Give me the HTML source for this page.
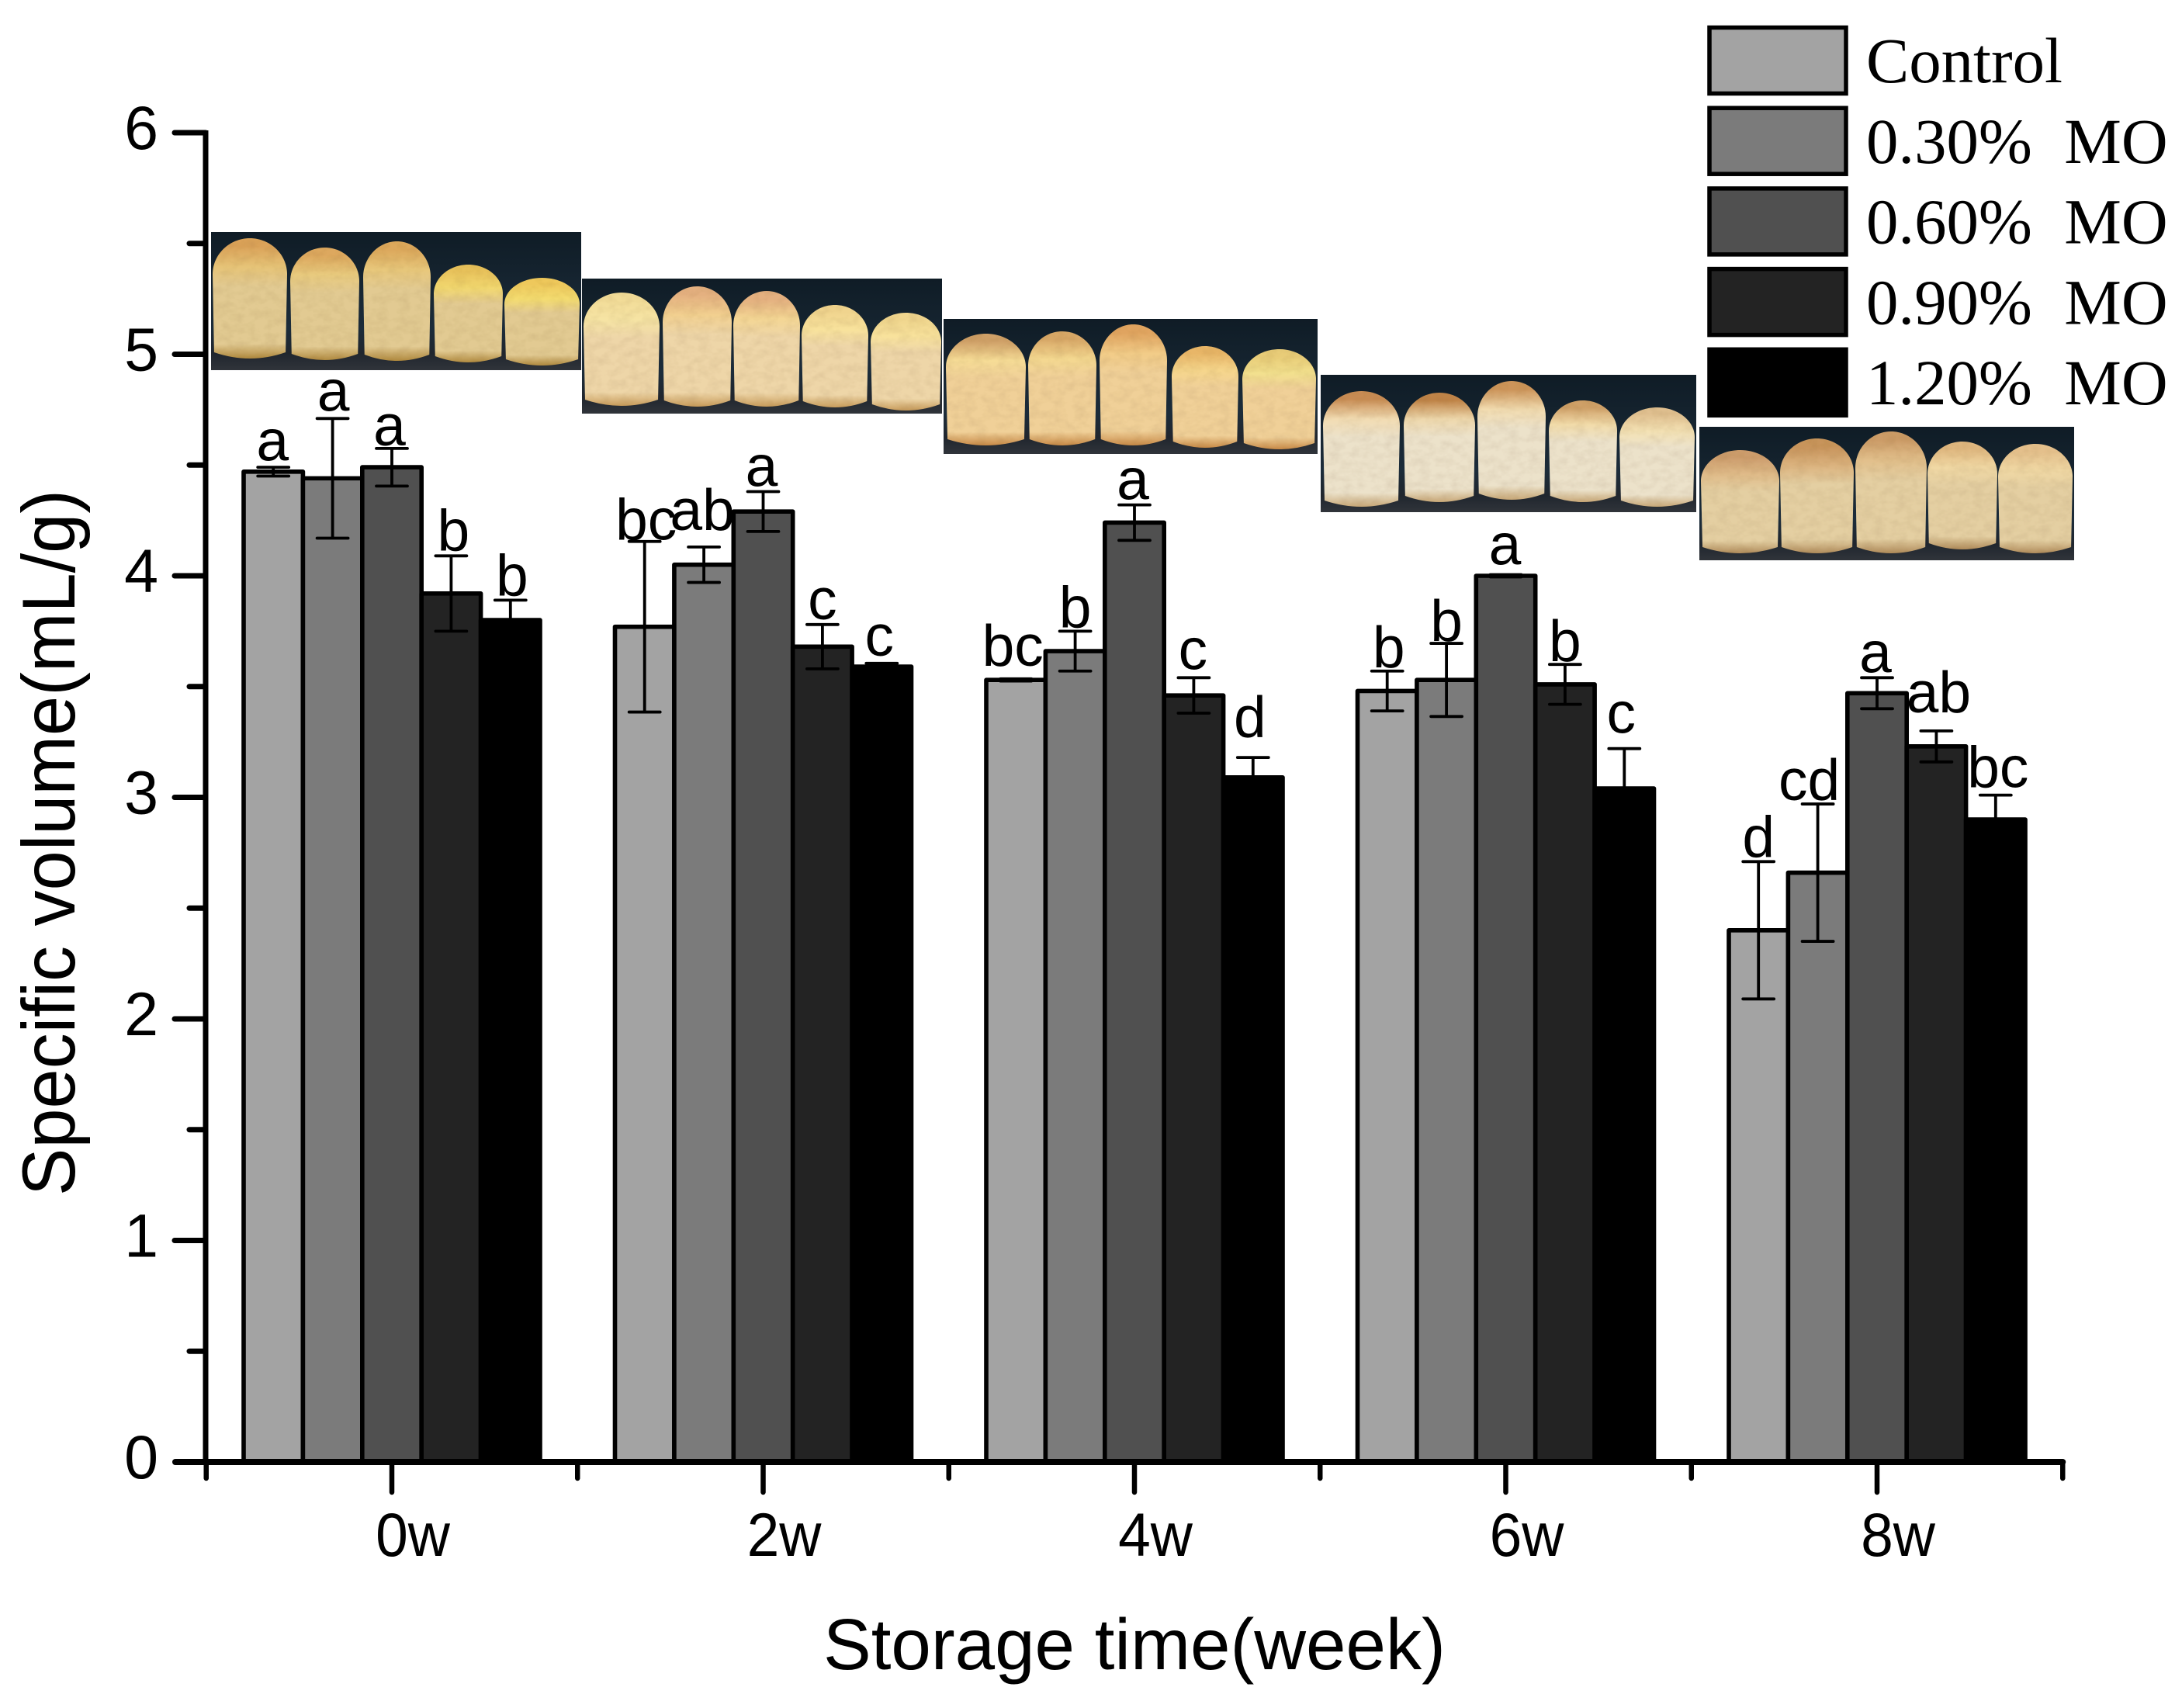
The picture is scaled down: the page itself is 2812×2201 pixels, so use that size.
<!DOCTYPE html>
<html lang="en">
<head>
<meta charset="utf-8">
<title>Specific volume over storage time</title>
<style>
html,body{margin:0;padding:0;background:#fff;}
svg{display:block;}
text{font-family:"Liberation Sans",Arial,sans-serif;fill:#000;}
.serif{font-family:"Liberation Serif","Times New Roman",serif;white-space:pre;}
</style>
</head>
<body>
<svg id="chart" xmlns="http://www.w3.org/2000/svg" width="2812" height="2201" viewBox="0 0 2812 2201">
  <defs>
    <filter id="crumb" x="0" y="0" width="100%" height="100%">
      <feTurbulence type="fractalNoise" baseFrequency="0.07 0.1" numOctaves="3" seed="4" result="n"/>
      <feColorMatrix in="n" type="matrix" values="0 0 0 0 0  0 0 0 0 0  0 0 0 0 0  1.5 0 0 0 -0.55" result="a"/>
      <feComposite in="a" in2="SourceAlpha" operator="in" result="m"/>
      <feFlood flood-color="#8a6428" flood-opacity="0.2"/>
      <feComposite in2="m" operator="in" result="shade"/>
      <feMerge><feMergeNode in="SourceGraphic"/><feMergeNode in="shade"/></feMerge>
    </filter>
    <linearGradient id="photo-bg" x1="0" y1="0" x2="0" y2="1">
      <stop offset="0" stop-color="#0f1c26"/>
      <stop offset="0.7" stop-color="#1c2c3a"/>
      <stop offset="0.88" stop-color="#20262e"/>
      <stop offset="1" stop-color="#30343a"/>
    </linearGradient>
  </defs>
  <g id="photos"></g>
  <g id="plot"></g>
  <g id="axes"></g>
  <g id="legend"></g>
</svg>
<script>
/* ---------- chart data ---------- */
const weeks = ["0w", "2w", "4w", "6w", "8w"];
const seriesNames = ["Control", "0.30%  MO", "0.60%  MO", "0.90%  MO", "1.20%  MO"];
const yTicks = [0, 1, 2, 3, 4, 5, 6];
const controlValues = [4.47, 3.77, 3.53, 3.48, 2.40];
const mo030Values = [4.44, 4.05, 3.66, 3.53, 2.66];
const mo060Values = [4.49, 4.29, 4.24, 4.00, 3.47];
const mo090Values = [3.92, 3.68, 3.46, 3.51, 3.23];
const mo120Values = [3.80, 3.59, 3.09, 3.04, 2.90];
const controlErrors = [0.02, 0.385, 0.005, 0.09, 0.31];
const mo030Errors = [0.27, 0.08, 0.09, 0.165, 0.31];
const mo060Errors = [0.085, 0.09, 0.08, 0.005, 0.07];
const mo090Errors = [0.17, 0.10, 0.08, 0.09, 0.07];
const mo120Errors = [0.09, 0.015, 0.09, 0.18, 0.11];
const controlLetters = ["a", "bc", "bc", "b", "d"];
const mo030Letters = ["a", "ab", "b", "b", "cd"];
const mo060Letters = ["a", "a", "a", "a", "a"];
const mo090Letters = ["b", "c", "c", "b", "ab"];
const mo120Letters = ["b", "c", "d", "c", "bc"];

const seriesValues = [controlValues, mo030Values, mo060Values, mo090Values, mo120Values];
const seriesErrors = [controlErrors, mo030Errors, mo060Errors, mo090Errors, mo120Errors];
const seriesLetters = [controlLetters, mo030Letters, mo060Letters, mo090Letters, mo120Letters];

/* ---------- layout ---------- */
const NS = "http://www.w3.org/2000/svg";
const fills = ["#a3a3a3", "#7b7b7b", "#505050", "#232323", "#000000"];
const Y0 = 1884, UNIT = 285.5;
const G0 = 505, GSTEP = 478.5, BARW = 76.4;
function yScale(v) { return Y0 - v * UNIT; }
function groupX(g) { return G0 + g * GSTEP; }
function barX(g, s) { return groupX(g) + (s - 2) * BARW; }

function make(tag, attrs, parent, text) {
  const el = document.createElementNS(NS, tag);
  for (const k in attrs) el.setAttribute(k, attrs[k]);
  if (text !== undefined) el.textContent = text;
  parent.appendChild(el);
  return el;
}

/* label placement tweaks (keyed group, series), hand-set to avoid collisions */
function labelLayout() {
  const lift = [[8.6,10,4,7,6],[2,22,7,7,10],[17,5,7,11,26],[5,3,13,4,20],[6,5,7,24,10]];
  const shift = [[-1,1,-3,3,2],[2,-2,-2,0,-3],[-4,0,-2,-1,-4],[2,0,-1,0,-4],[0,-11,-2,3,3]];
  return { lift, shift };
}

/* ---------- bars, error bars, letters ---------- */
const plot = document.getElementById("plot");
const layout = labelLayout();
weeks.forEach((week, g) => {
  const group = make("g", {}, plot);
  
  
  seriesNames.forEach((name, s) => {
    const v = seriesValues[s][g];
    const cx = barX(g, s);
    const top = yScale(v);
    const bar = make("rect", {
      x: cx - BARW / 2, y: top, width: BARW, height: Y0 - top,
      fill: fills[s], stroke: "#000", "stroke-width": 5.6, "stroke-linejoin": "round"
    }, group);
    
    
  });
  seriesNames.forEach((name, s) => {
    const v = seriesValues[s][g];
    const e = seriesErrors[s][g];
    const cx = barX(g, s);
    const up = yScale(v + e), lo = yScale(v - e);
    const eb = make("path", {
      d: "M" + cx + " " + up + "V" + lo + "M" + (cx - 20) + " " + up + "H" + (cx + 20) + "M" + (cx - 20) + " " + lo + "H" + (cx + 20),
      stroke: "#000", "stroke-width": 3.8, fill: "none", "stroke-linecap": "round"
    }, group);
    
    
    const lab = make("text", {
      x: cx + layout.shift[g][s], y: up - layout.lift[g][s],
      "font-size": 75, "text-anchor": "middle"
    }, group, seriesLetters[s][g]);
    
    
  });
});

/* ---------- axes ---------- */
const axes = document.getElementById("axes");
const xMin = groupX(0) - GSTEP / 2;
const xMax = groupX(weeks.length - 1) + GSTEP / 2;

const yAxis = make("line", { x1: 265, x2: 265, y1: yScale(6) - 3, y2: Y0 + 4, stroke: "#000", "stroke-width": 7 }, axes);


const xAxis = make("line", { x1: 226, x2: xMax, y1: Y0, y2: Y0, stroke: "#000", "stroke-width": 8, "stroke-linecap": "round" }, axes);



yTicks.forEach((t) => {
  const py = yScale(t);
  if (t > 0) {
    const tk = make("line", { x1: 225, x2: 265, y1: py, y2: py, stroke: "#000", "stroke-width": 7, "stroke-linecap": "round" }, axes);
    
    
  }
  if (t < 6) {
    const mt = make("line", { x1: 244, x2: 265, y1: yScale(t + 0.5), y2: yScale(t + 0.5), stroke: "#000", "stroke-width": 7, "stroke-linecap": "round" }, axes);
    
    
  }
  const lb = make("text", { x: 204, y: py + 21, "font-size": 79, "text-anchor": "end" }, axes, String(t));
  
  
});

weeks.forEach((week, g) => {
  const px = groupX(g);
  const tk = make("line", { x1: px, x2: px, y1: Y0, y2: 1923, stroke: "#000", "stroke-width": 6.5, "stroke-linecap": "round" }, axes);
  
  
  const lb = make("text", { x: 0, y: 0, "font-size": 75, "text-anchor": "middle", transform: "translate(" + (px + 27) + " 2005) scale(1 1.05)" }, axes, week);
  
  
});
for (let i = 0; i <= weeks.length; i++) {
  const px = xMin + i * GSTEP;
  const mt = make("line", { x1: px, x2: px, y1: Y0, y2: 1905, stroke: "#000", "stroke-width": 6.5, "stroke-linecap": "round" }, axes);
  
  
}

const xTitle = make("text", { x: 1462, y: 2151, "font-size": 92.5, "text-anchor": "middle" }, axes, "Storage time(week)");


const yTitle = make("text", { x: 0, y: 0, "font-size": 92, "text-anchor": "middle", transform: "translate(96 1086) rotate(-90) scale(1 1.05)" }, axes, "Specific volume(mL/g)");



/* ---------- legend ---------- */
const legend = document.getElementById("legend");
seriesNames.forEach((name, s) => {
  const top = 35.5 + s * 103.7;
  const entry = make("g", {}, legend);
  
  
  const sw = make("rect", { x: 2203, y: top, width: 176, height: 85, fill: fills[s], stroke: "#000", "stroke-width": 5.5 }, entry);
  
  
  const tx = make("text", { x: 2405, y: 106 + s * 103.8, "font-size": 82.8, "class": "serif" }, entry, name);
  
  
});

/* ---------- bread photos (illustration, not data) ---------- */
const photoSet = [
  { box: [272, 299, 477, 178], top: ["#dba35a","#dda85e","#dca85c","#e8c25c","#eec85c"], dome: ["#e6c478","#e8ca7e","#e8c87c","#f2d870","#f4dc70"], body: "#e2ca92", base: "#b08a40",
    loaves: [[274,370,307,462],[374,463,319,464],[468,555,311,465],[559,648,341,467],[650,747,358,471]] },
  { box: [750, 359, 464, 174], top: ["#f2dc98","#e4b080","#e4b080","#f0d48e","#f0d68e"], dome: ["#f6e4a4","#f2d090","#f4d694","#f8e29c","#f8e29c"], body: "#eed6a8", base: "#c89c5c",
    loaves: [[752,850,377,523],[854,943,369,524],[945,1031,375,524],[1033,1119,393,525],[1122,1213,403,529]] },
  { box: [1216, 411, 482, 174], top: ["#cfa068","#d8a868","#e0a460","#e8b668","#e8cc78"], dome: ["#f6dc96","#f4d890","#f2cc88","#f6d68c","#f2e08e"], body: "#f0d098", base: "#c88a48",
    loaves: [[1219,1322,430,574],[1325,1413,427,574],[1417,1504,418,574],[1510,1596,446,577],[1601,1696,450,579]] },
  { box: [1702, 483, 484, 177], top: ["#c88c54","#c08448","#cc945a","#cfa068","#e0c090"], dome: ["#f2dcb2","#eed8ac","#f2dcb0","#f2dcaa","#f4e2b4"], body: "#ece2ca", base: "#c8a878",
    loaves: [[1705,1804,504,653],[1809,1901,506,647],[1904,1992,491,644],[1996,2084,516,647],[2087,2184,525,653]] },
  { box: [2190, 550, 483, 172], top: ["#cc9c6c","#c8945c","#cc9c68","#e0b880","#e4c08c"], dome: ["#e0bc8a","#dcb480","#e2c08c","#f0d8a4","#f0d8a4"], body: "#e4cfa2", base: "#b08c5c",
    loaves: [[2192,2293,580,713],[2294,2389,565,713],[2391,2483,556,713],[2484,2574,569,708],[2575,2671,572,713]] }
];
const photos = document.getElementById("photos");
const defs = document.querySelector("defs");
photoSet.forEach((p, i) => {
  const grp = make("g", {}, photos);
  
  
  make("rect", { x: p.box[0], y: p.box[1], width: p.box[2], height: p.box[3], fill: "url(#photo-bg)" }, grp);
  p.loaves.forEach((l, j) => {
    const x0 = l[0], x1 = l[1], top = l[2], bot = l[3];
    const h = bot - top, w = x1 - x0;
    const sh = top + h * 0.3;
    const id = "lg" + i + "_" + j;
    const gr = make("linearGradient", { id: id, x1: 0, y1: 0, x2: 0, y2: 1 }, defs);
    make("stop", { offset: 0, "stop-color": p.top[j] }, gr);
    make("stop", { offset: 0.07, "stop-color": p.top[j] }, gr);
    make("stop", { offset: 0.24, "stop-color": p.dome[j] }, gr);
    make("stop", { offset: 0.4, "stop-color": p.body }, gr);
    make("stop", { offset: 0.88, "stop-color": p.body }, gr);
    make("stop", { offset: 1, "stop-color": p.base }, gr);
    const d = "M" + (x0 + w * 0.02) + " " + (bot - 8) +
      "L" + x0 + " " + sh +
      "C" + x0 + " " + (top + h * 0.135) + " " + (x0 + w * 0.225) + " " + top + " " + (x0 + w * 0.5) + " " + top +
      "C" + (x1 - w * 0.225) + " " + top + " " + x1 + " " + (top + h * 0.135) + " " + x1 + " " + sh +
      "L" + (x1 - w * 0.02) + " " + (bot - 8) +
      "Q" + (x0 + w * 0.5) + " " + (bot + 8) + " " + (x0 + w * 0.02) + " " + (bot - 8) + "Z";
    const loaf = make("path", { d: d, fill: "url(#" + id + ")", filter: "url(#crumb)" }, grp);
    
    
  });
});
</script>
</body>
</html>
